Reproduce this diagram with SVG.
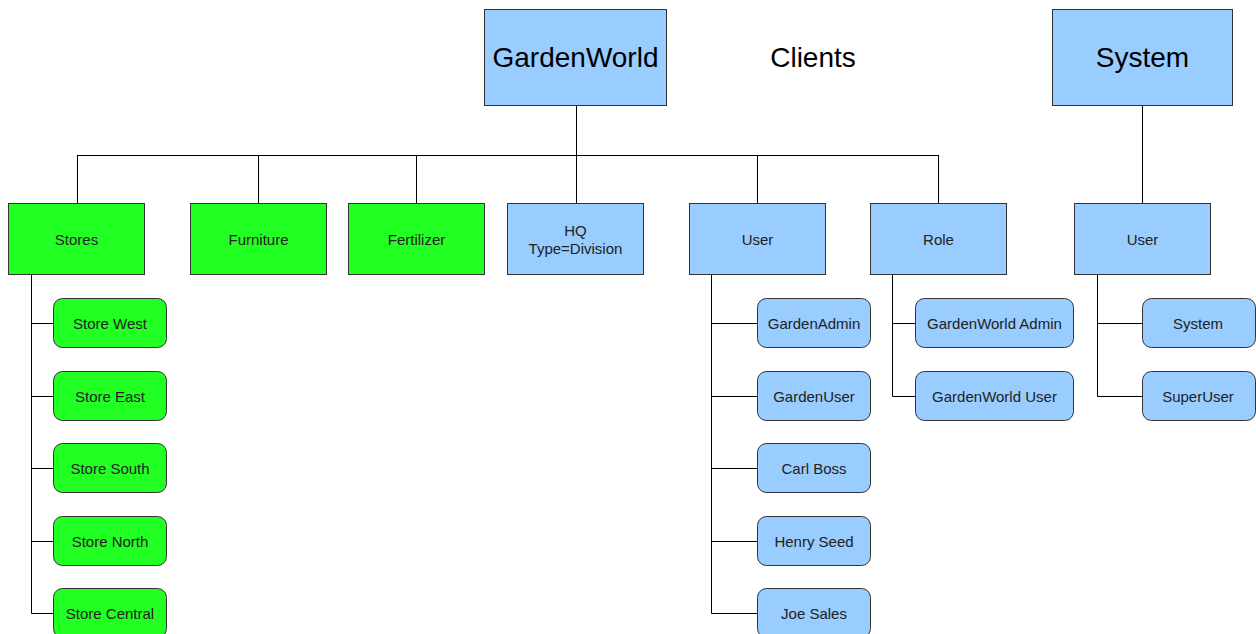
<svg xmlns="http://www.w3.org/2000/svg" width="1256" height="634" viewBox="0 0 1256 634">
<style>
.g{fill:#22ff22;stroke:#333;stroke-width:1}
.b{fill:#99ccff;stroke:#333;stroke-width:1}
.t{font-family:"Liberation Sans",Arial,sans-serif;font-size:15px;fill:#222;text-anchor:middle;dominant-baseline:central}
.big{font-family:"Liberation Sans",Arial,sans-serif;font-size:28px;fill:#000;text-anchor:middle;dominant-baseline:central}
.c{fill:none;stroke:#000;stroke-width:1}
</style>
<rect width="1256" height="634" fill="#fff"/>
<g id="connectors">
<path class="c" d="M576.5 106V203M77.5 155.5H938.5M77.5 155V203M258.5 155V203M416.5 155V203M757.5 155V203M938.5 155V203"/>
<path class="c" d="M1142.5 106V203"/>
<path class="c" d="M31.5 275V613.5H53M31.5 323.5H53M31.5 396.5H53M31.5 468.5H53M31.5 541.5H53"/>
<path class="c" d="M711.5 275V613.5H757M711.5 323.5H757M711.5 396.5H757M711.5 468.5H757M711.5 541.5H757"/>
<path class="c" d="M892.5 275V396.5H915M892.5 323.5H915"/>
<path class="c" d="M1097.5 275V396.5H1142M1097.5 323.5H1142"/>
</g>
<g id="gardenworld"><rect class="b" x="484.5" y="9.5" width="182" height="96"/><text class="big" x="575.5" y="57">GardenWorld</text></g>
<g id="clients"><text class="big" x="813" y="57">Clients</text></g>
<g id="system"><rect class="b" x="1052.5" y="9.5" width="180" height="96"/><text class="big" x="1142.5" y="57">System</text></g>
<g id="stores"><rect class="g" x="8.5" y="203.5" width="136" height="71"/><text class="t" x="76.5" y="239">Stores</text></g>
<g id="furniture"><rect class="g" x="190.5" y="203.5" width="136" height="71"/><text class="t" x="258.5" y="239">Furniture</text></g>
<g id="fertilizer"><rect class="g" x="348.5" y="203.5" width="136" height="71"/><text class="t" x="416.5" y="239">Fertilizer</text></g>
<g id="hq"><rect class="b" x="507.5" y="203.5" width="136" height="71"/><text class="t" x="575.5" y="230">HQ</text><text class="t" x="575.5" y="248">Type=Division</text></g>
<g id="user"><rect class="b" x="689.5" y="203.5" width="136" height="71"/><text class="t" x="757.5" y="239">User</text></g>
<g id="role"><rect class="b" x="870.5" y="203.5" width="136" height="71"/><text class="t" x="938.5" y="239">Role</text></g>
<g id="sysuser"><rect class="b" x="1074.5" y="203.5" width="136" height="71"/><text class="t" x="1142.5" y="239">User</text></g>
<g id="storewest"><rect class="g" x="53.5" y="298.5" width="113" height="49" rx="9"/><text class="t" x="110" y="323.5">Store West</text></g>
<g id="storeeast"><rect class="g" x="53.5" y="371.5" width="113" height="49" rx="9"/><text class="t" x="110" y="396">Store East</text></g>
<g id="storesouth"><rect class="g" x="53.5" y="443.5" width="113" height="49" rx="9"/><text class="t" x="110" y="468.5">Store South</text></g>
<g id="storenorth"><rect class="g" x="53.5" y="516.5" width="113" height="49" rx="9"/><text class="t" x="110" y="541">Store North</text></g>
<g id="storecentral"><rect class="g" x="53.5" y="588.5" width="113" height="49" rx="9"/><text class="t" x="110" y="613">Store Central</text></g>
<g id="gardenadmin"><rect class="b" x="757.5" y="298.5" width="113" height="49" rx="9"/><text class="t" x="814" y="323.5">GardenAdmin</text></g>
<g id="gardenuser"><rect class="b" x="757.5" y="371.5" width="113" height="49" rx="9"/><text class="t" x="814" y="396">GardenUser</text></g>
<g id="carlboss"><rect class="b" x="757.5" y="443.5" width="113" height="49" rx="9"/><text class="t" x="814" y="468.5">Carl Boss</text></g>
<g id="henryseed"><rect class="b" x="757.5" y="516.5" width="113" height="49" rx="9"/><text class="t" x="814" y="541">Henry Seed</text></g>
<g id="joesales"><rect class="b" x="757.5" y="588.5" width="113" height="49" rx="9"/><text class="t" x="814" y="613">Joe Sales</text></g>
<g id="gwadmin"><rect class="b" x="915.5" y="298.5" width="158" height="49" rx="9"/><text class="t" x="994.5" y="323.5">GardenWorld Admin</text></g>
<g id="gwuser"><rect class="b" x="915.5" y="371.5" width="158" height="49" rx="9"/><text class="t" x="994.5" y="396">GardenWorld User</text></g>
<g id="sysleaf"><rect class="b" x="1142.5" y="298.5" width="113" height="49" rx="9"/><text class="t" x="1198" y="323.5">System</text></g>
<g id="superuser"><rect class="b" x="1142.5" y="371.5" width="113" height="49" rx="9"/><text class="t" x="1198" y="396">SuperUser</text></g>
</svg>
